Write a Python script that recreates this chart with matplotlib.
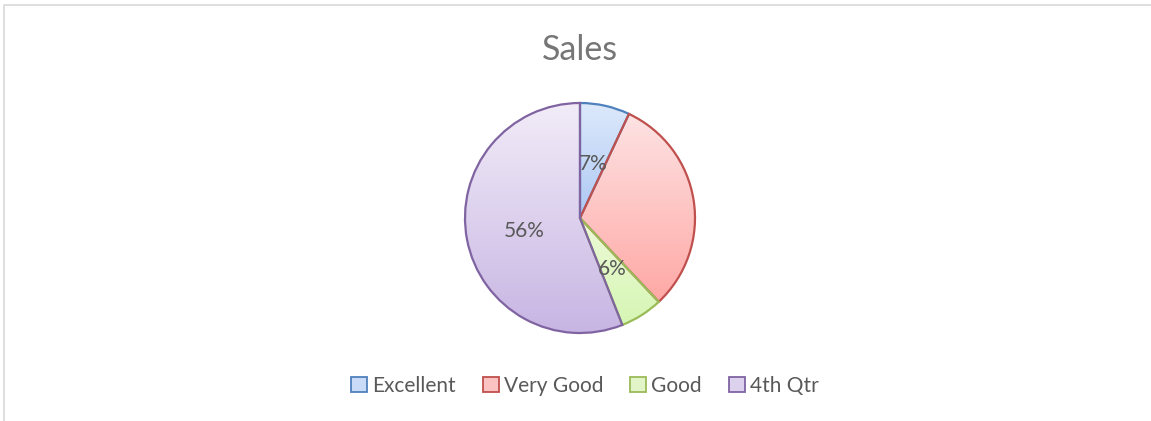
import numpy as np
import matplotlib.pyplot as plt
from matplotlib.patches import Rectangle, Patch
from matplotlib.colors import to_rgb

plt.rcParams['font.family'] = ['Lato', 'DejaVu Sans']

# ---------- data ----------
categories = ["Excellent", "Very Good", "Good", "4th Qtr"]
shares = [7, 31, 6, 56]
shown_labels = ["7%", "", "6%", "56%"]   # Very Good has no data label

# ---------- styles ----------
edge_colors = ["#4f81bd", "#c0504d", "#9bbb59", "#8064a2"]
grad_top = ["#dde9fb", "#fde3e3", "#edfad8", "#f2ecf8"]
grad_bot = ["#adc8f4", "#ffa8a5", "#d6f6b4", "#c7b5e3"]
legend_fill = ["#c9dbf7", "#fbc4c3", "#e2f5c9", "#dcd2ee"]

W, H = 1151, 421
fig = plt.figure(figsize=(W / 100, H / 100), dpi=100)

# chart-area border (only top and left visible in the crop)
fig.patches.append(Rectangle((4 / W, -0.1), 1.2, 1 - 5 / H + 0.1,
                             transform=fig.transFigure, fill=False,
                             edgecolor="#d9d9d9", linewidth=1.2))

fig.text(580 / W, 1 - 50 / H, "Sales", ha="center", va="center",
         fontsize=24.5, color="#767676")

# pie axes: centre (580, 218), radius 115 px
cx, cy, r = 580, 218, 115
ax = fig.add_axes([(cx - r - 5) / W, (H - cy - r - 5) / H,
                   (2 * r + 10) / W, (2 * r + 10) / H])
wedges, texts = ax.pie(shares, labels=shown_labels, startangle=90,
                       counterclock=False, radius=1.0, labeldistance=0.5,
                       wedgeprops=dict(linewidth=1.6),
                       textprops=dict(fontsize=15, color="#595959",
                                      ha="center", va="center"))
lim = (r + 5) / r
ax.set_xlim(-lim, lim)
ax.set_ylim(-lim, lim)
ax.axis("off")

for w, ec, top, bot in zip(wedges, edge_colors, grad_top, grad_bot):
    w.set_facecolor("none")
    w.set_edgecolor(ec)
    w.set_zorder(3)
    verts = w.get_path().vertices
    x0, x1 = verts[:, 0].min(), verts[:, 0].max()
    y0, y1 = verts[:, 1].min(), verts[:, 1].max()
    t = np.linspace(0, 1, 200)[:, None]
    c0, c1 = np.array(to_rgb(top)), np.array(to_rgb(bot))
    img = (c0 * (1 - t) + c1 * t)[:, None, :]
    im = ax.imshow(img, extent=(x0, x1, y0, y1), origin="upper",
                   aspect="auto", zorder=1, interpolation="bilinear")
    im.set_clip_path(w)

# nudge labels slightly down, as in the original
for t_ in texts:
    t_.set_zorder(4)
    x, y = t_.get_position()
    t_.set_position((x + 0.01, y - 0.02))

handles = [Patch(facecolor=f, edgecolor=e, linewidth=1.3)
           for f, e in zip(legend_fill, edge_colors)]
fig.legend(handles, categories, loc="center", ncol=4,
           bbox_to_anchor=(585 / W, 1 - 386 / H), frameon=False,
           fontsize=15, labelcolor="#595959", handlelength=0.75,
           handleheight=0.75, handletextpad=0.25, columnspacing=1.3)

fig.savefig("out.png", dpi=100)
